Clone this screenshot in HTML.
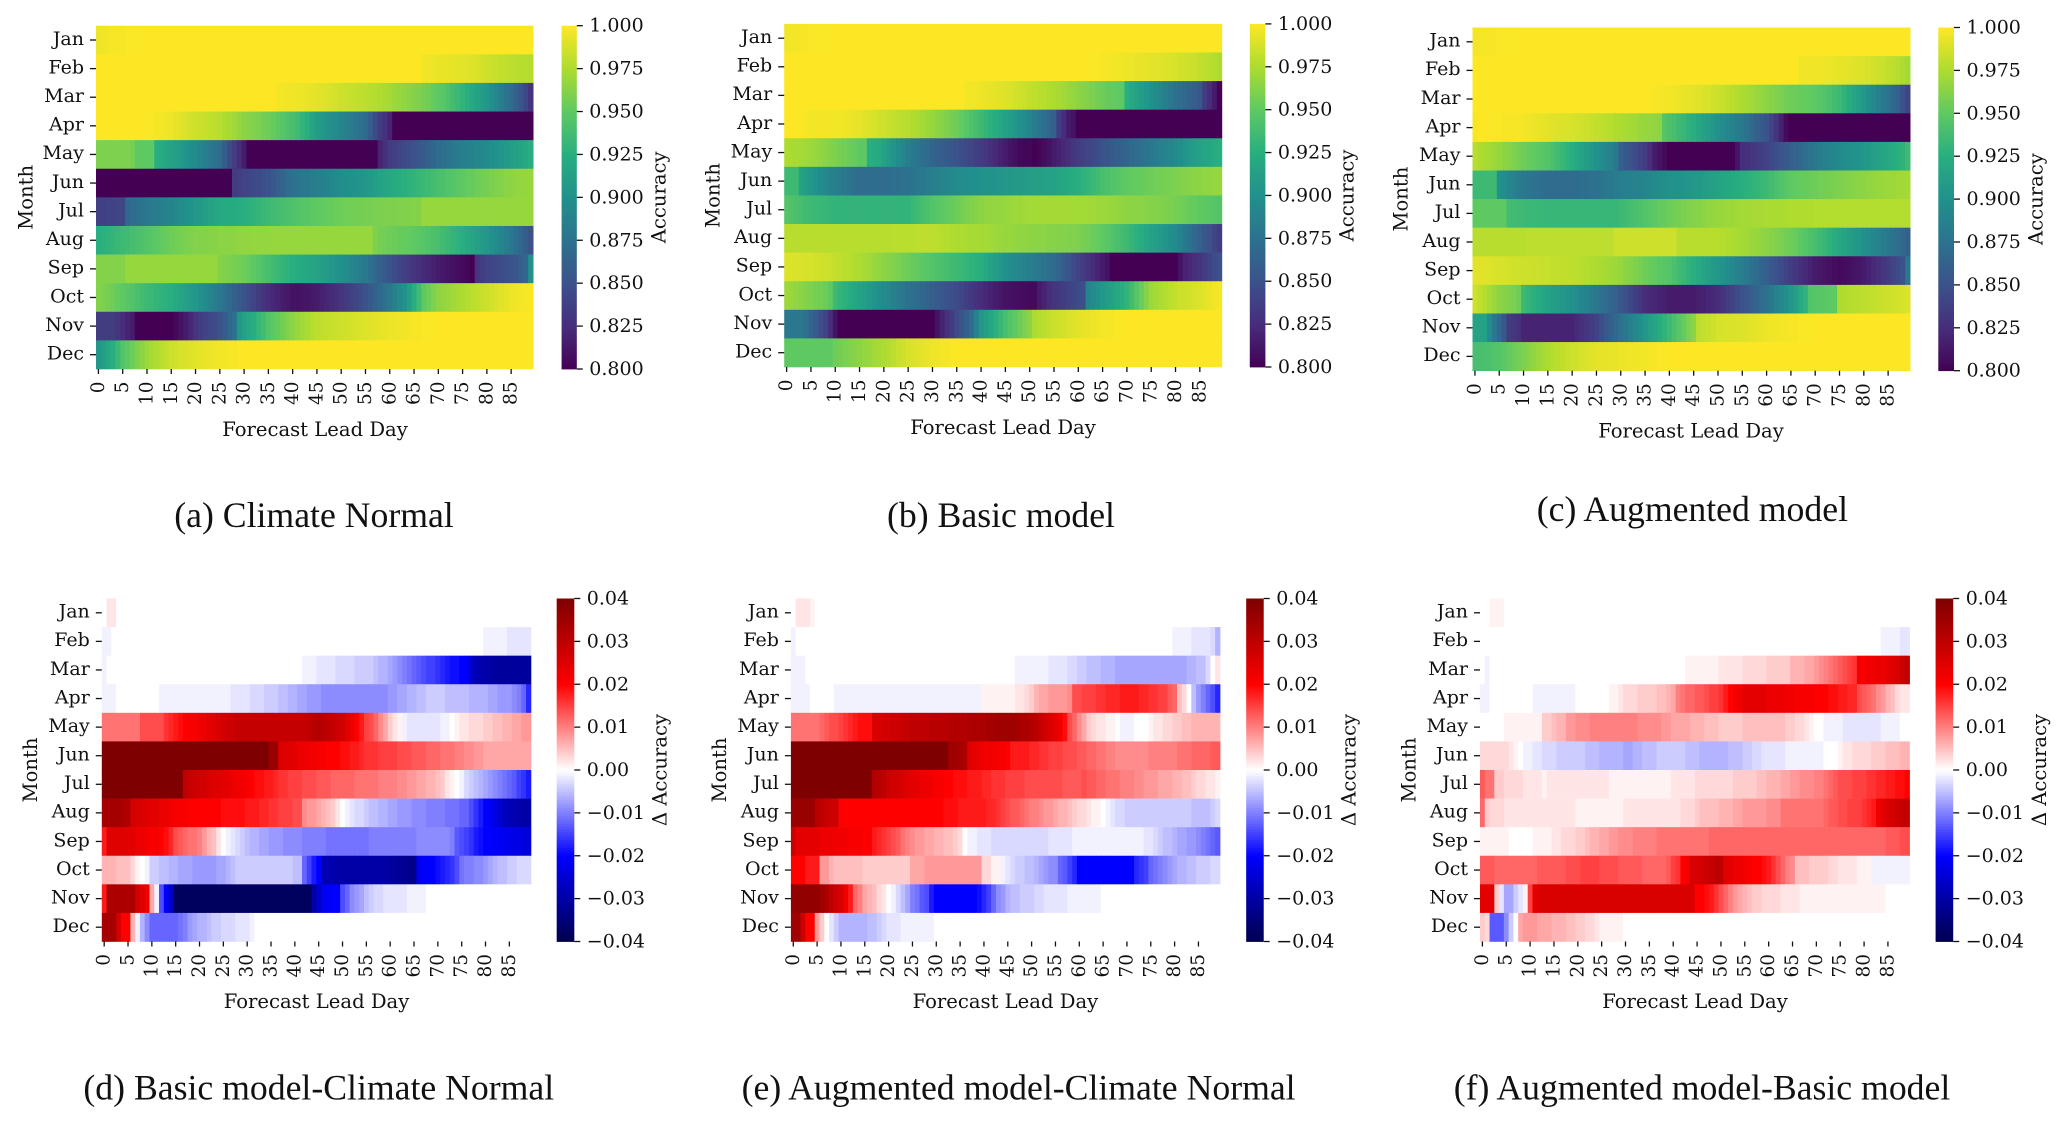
<!DOCTYPE html>
<html lang="en">
<head>
<meta charset="utf-8">
<title>Forecast accuracy heatmaps</title>
<style>
html,body{margin:0;padding:0;background:#fff;width:2067px;height:1125px;overflow:hidden}
svg{display:block}
.tick{font-family:"DejaVu Serif",serif;font-size:19px;fill:#111}
.xtick{font-family:"DejaVu Serif",serif;font-size:18.5px;fill:#111}
.axis{font-family:"DejaVu Serif",serif;font-size:19.6px;fill:#111}
.caption{font-family:"Liberation Serif",serif;font-size:35.7px;fill:#111}
</style>
</head>
<body>
<svg id="fig" xmlns="http://www.w3.org/2000/svg" width="2067" height="1125" viewBox="0 0 2067 1125"></svg>
<script>
const months = ["Jan","Feb","Mar","Apr","May","Jun","Jul","Aug","Sep","Oct","Nov","Dec"];
const leadDayTicks = [0,5,10,15,20,25,30,35,40,45,50,55,60,65,70,75,80,85];
const accuracyTicks = [0.8,0.825,0.85,0.875,0.9,0.925,0.95,0.975,1.0];
const accuracyTickLabels = ["0.800","0.825","0.850","0.875","0.900","0.925","0.950","0.975","1.000"];
const deltaTicks = [-0.04,-0.03,-0.02,-0.01,0,0.01,0.02,0.03,0.04];
const deltaTickLabels = ["\u22120.04","\u22120.03","\u22120.02","\u22120.01","0.00","0.01","0.02","0.03","0.04"];

/* accuracy x 1000, one row per month, one value per lead day (0-89) */
const climateNormal = [
[995,996,997,998,998,998,999,999,999,999, 1000,1000,1000,1000,1000,1000,1000,1000,1000,1000, 1000,1000,1000,1000,1000,1000,1000,1000,1000,1000, 1000,1000,1000,1000,1000,1000,1000,1000,1000,1000, 1000,1000,1000,1000,1000,1000,1000,1000,1000,1000, 1000,1000,1000,1000,1000,1000,1000,1000,1000,1000, 1000,1000,1000,1000,1000,1000,1000,1000,1000,1000, 1000,1000,1000,1000,1000,1000,1000,1000,1000,1000, 1000,1000,1000,1000,1000,1000,1000,1000,1000,1000],
[1000,1000,1000,1000,1000,1000,1000,1000,1000,1000, 1000,1000,1000,1000,1000,1000,1000,1000,1000,1000, 1000,1000,1000,1000,1000,1000,1000,1000,1000,1000, 1000,1000,1000,1000,1000,1000,1000,1000,1000,1000, 1000,1000,1000,1000,1000,1000,1000,1000,1000,1000, 1000,1000,1000,1000,1000,1000,1000,1000,1000,1000, 1000,1000,1000,1000,1000,1000,1000,996,996,995, 994,994,993,993,992,992,991,990,989,987, 985,984,983,982,981,980,979,978,978,977],
[1000,1000,1000,1000,1000,1000,1000,1000,1000,1000, 1000,1000,1000,1000,1000,1000,1000,1000,1000,1000, 1000,1000,1000,1000,1000,1000,1000,1000,1000,1000, 1000,1000,1000,1000,1000,1000,1000,997,997,996, 996,995,995,994,993,992,991,990,988,987, 985,984,983,982,981,980,978,977,976,974, 972,970,968,966,964,962,960,958,955,952, 950,947,943,938,934,930,925,920,915,910, 905,898,891,884,877,870,862,853,843,830],
[1000,1000,1000,1000,1000,1000,1000,1000,1000,1000, 999,999,998,997,996,995,993,991,989,987, 985,984,983,981,980,978,975,973,971,967, 965,963,961,959,957,955,952,949,946,943, 940,936,930,925,917,910,906,902,898,894, 890,886,882,878,874,870,858,845,836,828, 820,800,800,800,800,800,800,800,800,800, 800,800,800,800,800,800,800,800,800,800, 800,800,800,800,800,800,800,800,800,800],
[960,960,960,960,960,960,960,958,950,950, 950,950,925,922,918,915,911,907,903,899, 895,890,885,880,875,870,858,846,835,825, 815,800,800,800,800,800,800,800,800,800, 800,800,800,800,800,800,800,800,800,800, 800,800,800,800,800,800,800,800,820,828, 835,838,841,844,847,850,854,858,862,866, 870,873,876,879,882,885,887,889,891,893, 895,898,901,904,907,910,913,916,920,925],
[800,800,800,800,800,800,800,800,800,800, 800,800,800,800,800,800,800,800,800,800, 800,800,800,800,800,800,800,800,835,838, 840,842,844,846,848,850,855,860,865,870, 875,877,879,881,883,885,887,889,892,895, 897,899,900,902,903,905,908,911,914,917, 920,922,924,926,928,930,932,934,936,938, 940,942,944,946,948,950,952,953,955,956, 958,959,961,962,964,965,966,967,967,968],
[838,838,840,840,842,842,868,870,873,876, 880,882,884,886,888,890,893,896,899,902, 905,908,911,914,917,920,921,922,923,924, 925,927,929,931,933,935,937,938,940,941, 943,944,946,947,949,950,951,952,953,954, 955,956,956,957,957,958,958,959,959,960, 960,960,961,961,961,962,962,968,968,968, 968,968,968,968,968,968,968,968,968,968, 968,968,968,968,968,968,968,968,968,968],
[925,927,929,931,933,935,937,939,941,943, 945,947,949,951,953,955,956,958,959,960, 962,962,962,963,963,964,964,965,965,966, 966,966,967,967,967,967,968,968,968,968, 968,968,968,968,968,968,968,968,968,968, 968,968,968,968,968,968,968,960,958,956, 955,954,953,952,951,950,948,946,944,942, 940,937,934,931,928,925,921,917,913,909, 905,900,895,890,885,880,873,866,858,850],
[962,962,962,962,962,962,968,968,968,968, 968,968,968,968,968,968,968,968,968,968, 968,968,968,968,968,962,961,960,958,957, 955,952,949,946,943,940,937,934,931,928, 925,923,921,919,917,915,912,909,906,903, 900,896,892,888,884,880,874,868,862,856, 850,846,842,838,834,830,827,824,821,818, 815,813,811,809,807,805,803,800,830,835, 840,842,844,846,848,850,855,860,866,900],
[962,960,958,955,952,950,947,944,941,938, 935,933,931,929,927,925,921,917,913,909, 905,900,895,890,885,880,874,868,862,856, 850,845,840,835,830,825,822,819,816,813, 810,810,811,812,813,815,818,821,824,827, 830,834,838,842,846,850,856,862,868,874, 880,887,894,900,912,925,937,950,955,960, 965,967,969,971,973,975,977,979,981,983, 985,987,989,991,993,995,996,997,998,1000],
[835,835,835,835,830,825,820,815,800,800, 800,800,800,800,800,800,805,810,815,822, 830,835,840,843,846,850,858,866,875,905, 915,920,925,932,938,945,949,953,957,961, 965,968,971,974,977,980,981,982,983,984, 985,986,987,988,989,990,991,992,993,994, 995,995,996,996,997,998,998,999,999,999, 1000,1000,1000,1000,1000,1000,1000,1000,1000,1000, 1000,1000,1000,1000,1000,1000,1000,1000,1000,1000],
[905,912,918,925,935,945,950,955,960,965, 970,973,976,979,982,985,986,988,989,990, 992,993,994,995,996,997,997,998,998,999, 1000,1000,1000,1000,1000,1000,1000,1000,1000,1000, 1000,1000,1000,1000,1000,1000,1000,1000,1000,1000, 1000,1000,1000,1000,1000,1000,1000,1000,1000,1000, 1000,1000,1000,1000,1000,1000,1000,1000,1000,1000, 1000,1000,1000,1000,1000,1000,1000,1000,1000,1000, 1000,1000,1000,1000,1000,1000,1000,1000,1000,1000]
];
const basicModel = [
[996,997,997,998,998,999,999,999,999,999, 1000,1000,1000,1000,1000,1000,1000,1000,1000,1000, 1000,1000,1000,1000,1000,1000,1000,1000,1000,1000, 1000,1000,1000,1000,1000,1000,1000,1000,1000,1000, 1000,1000,1000,1000,1000,1000,1000,1000,1000,1000, 1000,1000,1000,1000,1000,1000,1000,1000,1000,1000, 1000,1000,1000,1000,1000,1000,1000,1000,1000,1000, 1000,1000,1000,1000,1000,1000,1000,1000,1000,1000, 1000,1000,1000,1000,1000,1000,1000,1000,1000,1000],
[1000,1000,1000,1000,1000,1000,1000,1000,1000,1000, 1000,1000,1000,1000,1000,1000,1000,1000,1000,1000, 1000,1000,1000,1000,1000,1000,1000,1000,1000,1000, 1000,1000,1000,1000,1000,1000,1000,1000,1000,1000, 1000,1000,1000,1000,1000,1000,1000,1000,1000,1000, 1000,1000,1000,1000,1000,1000,1000,1000,1000,1000, 1000,1000,999,999,999,998,998,997,997,996, 995,995,994,994,993,992,992,991,990,989, 988,987,986,985,984,982,981,979,977,975],
[1000,1000,1000,1000,1000,1000,1000,1000,1000,1000, 1000,1000,1000,1000,1000,1000,1000,1000,1000,1000, 1000,1000,1000,1000,1000,1000,1000,1000,1000,1000, 1000,1000,1000,1000,1000,1000,1000,997,997,996, 995,994,993,992,991,990,989,987,986,984, 982,981,979,978,976,975,973,971,969,967, 965,963,961,959,957,955,953,952,951,950, 925,920,915,910,905,900,895,890,885,880, 875,871,867,863,859,855,835,825,815,800],
[1000,1000,1000,1000,998,997,997,997,997,997, 997,997,996,995,994,993,991,990,988,986, 985,983,982,980,979,978,976,974,972,970, 968,965,963,960,958,955,951,947,943,939, 935,931,927,923,919,915,910,905,900,895, 890,884,878,872,866,860,835,825,815,810, 800,800,800,800,800,800,800,800,800,800, 800,800,800,800,800,800,800,800,800,800, 800,800,800,800,800,800,800,800,800,800],
[975,974,973,972,971,970,968,966,964,962, 960,958,956,954,952,950,950,925,923,921, 915,909,903,897,891,885,881,877,873,869, 865,862,859,856,853,850,847,844,841,838, 835,831,827,823,819,815,811,808,804,803, 803,800,803,806,810,815,819,823,827,831, 835,838,841,844,847,850,853,856,859,862, 865,868,871,874,877,880,883,886,889,892, 895,899,903,907,911,915,917,919,922,925],
[935,935,935,915,910,905,901,897,893,889, 885,882,879,876,873,870,870,870,870,870, 870,871,872,873,874,875,877,879,881,883, 885,887,889,891,893,895,896,897,898,899, 900,901,902,903,904,905,906,907,908,909, 910,911,912,913,914,915,917,919,921,923, 925,928,931,934,937,940,942,944,946,948, 950,951,952,953,954,955,956,957,958,959, 960,961,962,963,964,965,966,966,967,968],
[945,943,941,939,937,935,934,933,932,931, 930,930,930,930,930,930,930,930,930,930, 930,930,930,930,930,930,933,936,939,942, 945,947,949,951,953,955,957,959,961,963, 965,966,966,967,967,968,969,970,970,971, 972,972,972,972,972,972,972,972,972,972, 972,972,971,971,970,970,969,968,967,966, 965,965,964,964,963,962,962,961,960,959, 958,956,955,953,952,950,949,948,946,945],
[978,978,978,978,978,978,978,978,978,978, 978,978,978,978,978,978,978,978,978,978, 978,978,979,979,979,979,979,980,980,980, 980,979,978,977,976,975,975,974,973,973, 972,972,971,970,969,968,968,967,966,966, 965,965,964,964,963,963,962,962,961,961, 960,958,956,954,952,950,947,944,941,938, 935,931,927,923,919,915,911,907,903,899, 895,888,881,874,867,860,855,850,842,835],
[990,990,989,989,988,988,987,986,985,984, 982,981,979,978,976,975,973,971,969,967, 965,963,961,959,957,955,953,951,949,947, 945,943,941,939,937,935,933,931,929,927, 925,920,915,910,905,900,897,894,891,888, 885,882,879,876,873,870,864,858,852,846, 840,835,830,825,820,815,810,800,800,800, 800,800,800,800,800,800,800,800,800,800, 800,810,820,823,827,830,835,840,845,850],
[970,968,966,964,962,960,958,956,954,950, 935,931,927,923,919,915,911,907,903,899, 895,891,887,883,879,875,872,869,866,863, 860,857,854,851,848,845,841,837,833,829, 825,822,819,816,813,810,809,808,807,806, 805,805,815,820,825,830,833,836,839,842, 845,848,890,895,900,905,910,915,920,925, 930,938,946,954,962,970,972,975,977,980, 982,984,985,987,988,990,992,994,996,998],
[880,880,880,880,872,865,857,848,840,825, 810,800,800,800,800,800,800,800,800,800, 800,800,800,800,800,800,800,800,800,800, 800,810,820,828,836,845,853,861,870,888, 905,912,919,926,933,940,945,950,955,960, 965,975,977,979,982,985,986,987,989,990, 992,993,994,995,996,997,998,998,999,999, 1000,1000,1000,1000,1000,1000,1000,1000,1000,1000, 1000,1000,1000,1000,1000,1000,1000,1000,1000,1000],
[950,950,950,950,950,950,950,950,950,950, 955,957,959,961,963,965,967,969,971,973, 975,977,980,983,985,988,989,991,992,994, 995,996,997,998,999,1000,1000,1000,1000,1000, 1000,1000,1000,1000,1000,1000,1000,1000,1000,1000, 1000,1000,1000,1000,1000,1000,1000,1000,1000,1000, 1000,1000,1000,1000,1000,1000,1000,1000,1000,1000, 1000,1000,1000,1000,1000,1000,1000,1000,1000,1000, 1000,1000,1000,1000,1000,1000,1000,1000,1000,1000]
];
const augmentedModel = [
[997,997,998,998,998,999,999,999,999,999, 1000,1000,1000,1000,1000,1000,1000,1000,1000,1000, 1000,1000,1000,1000,1000,1000,1000,1000,1000,1000, 1000,1000,1000,1000,1000,1000,1000,1000,1000,1000, 1000,1000,1000,1000,1000,1000,1000,1000,1000,1000, 1000,1000,1000,1000,1000,1000,1000,1000,1000,1000, 1000,1000,1000,1000,1000,1000,1000,1000,1000,1000, 1000,1000,1000,1000,1000,1000,1000,1000,1000,1000, 1000,1000,1000,1000,1000,1000,1000,1000,1000,1000],
[1000,1000,1000,1000,1000,1000,1000,1000,1000,1000, 1000,1000,1000,1000,1000,1000,1000,1000,1000,1000, 1000,1000,1000,1000,1000,1000,1000,1000,1000,1000, 1000,1000,1000,1000,1000,1000,1000,1000,1000,1000, 1000,1000,1000,1000,1000,1000,1000,1000,1000,1000, 1000,1000,1000,1000,1000,1000,1000,1000,1000,1000, 1000,1000,1000,1000,1000,1000,1000,996,996,996, 996,996,995,995,994,993,993,992,991,990, 990,988,987,985,984,982,980,978,975,972],
[1000,1000,1000,1000,1000,1000,1000,1000,1000,1000, 1000,1000,1000,1000,1000,1000,1000,1000,1000,1000, 1000,1000,1000,1000,1000,1000,1000,1000,1000,1000, 1000,1000,1000,1000,1000,1000,1000,998,998,997, 997,996,995,994,993,992,991,989,988,986, 985,983,981,979,977,975,973,971,969,967, 965,963,961,959,957,955,954,953,952,951, 950,947,944,941,938,935,929,923,917,911, 905,899,893,887,881,875,868,861,850,840],
[998,1000,1000,999,999,999,998,998,998,998, 997,996,995,994,993,992,991,990,989,989, 988,987,986,985,983,982,981,979,978,976, 975,974,972,971,969,968,967,966,965,945, 942,939,935,932,928,925,920,915,910,905, 900,896,892,888,884,880,874,868,862,856, 850,840,830,818,805,800,800,800,800,800, 800,800,800,800,800,800,800,800,800,800, 800,800,800,800,800,800,800,800,800,800],
[978,976,974,972,970,968,965,963,960,958, 955,953,951,949,947,945,941,937,933,929, 925,920,915,910,905,900,896,892,888,880, 860,855,850,845,840,835,825,815,810,805, 800,800,800,800,800,800,800,800,800,800, 800,800,800,800,812,825,828,831,834,837, 840,844,848,852,856,860,864,868,872,876, 880,883,886,889,892,895,897,899,901,903, 905,908,911,914,917,920,923,926,929,935],
[935,935,935,935,935,900,896,892,888,884, 880,878,876,874,872,870,870,870,870,870, 870,871,872,873,874,875,877,879,881,883, 885,886,887,888,889,890,892,894,896,898, 900,901,902,903,904,905,907,909,911,913, 915,917,919,921,923,925,927,929,931,933, 935,938,941,944,947,950,951,952,953,954, 955,956,957,958,959,960,961,962,963,964, 965,966,967,968,969,970,970,971,971,972],
[950,950,950,950,950,950,950,938,937,936, 935,934,934,933,933,932,932,932,932,932, 932,932,932,932,932,932,932,932,932,932, 935,937,939,941,943,945,947,949,951,953, 955,956,958,959,961,962,963,964,966,967, 968,969,970,970,971,972,972,973,973,973, 974,974,974,974,975,976,976,976,976,976, 977,977,977,977,977,977,977,977,977,977, 977,977,977,977,977,977,977,977,977,977],
[978,978,978,978,978,978,978,978,978,978, 978,980,980,980,980,980,980,980,980,980, 980,980,980,980,980,980,980,980,980,985, 985,985,985,985,985,985,985,985,985,985, 985,985,978,978,978,978,978,978,978,978, 978,977,976,975,974,972,971,969,968,966, 965,963,961,959,957,955,952,949,946,943, 940,936,932,928,924,920,916,912,908,904, 900,896,892,888,884,880,876,872,868,860],
[992,991,991,990,989,988,988,987,986,986, 985,985,984,984,983,983,982,982,981,981, 980,979,978,977,976,975,974,972,971,970, 968,965,963,960,958,955,953,951,949,947, 945,941,937,933,929,925,921,917,913,909, 905,901,897,893,889,885,880,875,870,865, 860,855,850,845,840,835,831,827,823,819, 815,813,811,809,807,805,806,808,810,812, 815,819,823,827,831,835,840,845,850,880],
[985,981,977,973,969,965,963,961,959,955, 935,931,927,923,919,915,912,909,906,903, 900,896,892,888,884,880,875,870,865,860, 855,849,843,837,831,825,823,821,819,817, 815,815,815,815,815,815,817,819,821,823, 825,830,835,840,845,850,855,860,865,870, 875,881,887,893,899,905,913,921,929,945, 946,947,948,949,950,975,976,977,978,979, 980,981,982,983,984,985,986,987,988,990],
[915,915,915,897,880,868,855,835,832,828, 820,820,820,820,820,820,820,820,820,820, 820,824,828,832,836,840,847,854,861,868, 875,881,887,893,899,905,911,917,923,929, 935,941,947,953,959,965,980,982,983,985, 988,988,989,989,990,990,991,992,993,994, 995,996,996,997,997,998,998,999,999,999, 1000,1000,1000,1000,1000,1000,1000,1000,1000,1000, 1000,1000,1000,1000,1000,1000,1000,1000,1000,1000],
[940,940,941,942,944,945,948,951,954,957, 960,963,966,969,972,975,977,979,981,983, 985,986,988,989,991,992,993,993,994,994, 995,995,996,996,997,997,998,998,999,999, 1000,1000,1000,1000,1000,1000,1000,1000,1000,1000, 1000,1000,1000,1000,1000,1000,1000,1000,1000,1000, 1000,1000,1000,1000,1000,1000,1000,1000,1000,1000, 1000,1000,1000,1000,1000,1000,1000,1000,1000,1000, 1000,1000,1000,1000,1000,1000,1000,1000,1000,1000]
];

/* accuracy difference x 1000 */
const basicMinusClimate = [
[0,2,2,0,0,0,0,0,0,0, 0,0,0,0,0,0,0,0,0,0, 0,0,0,0,0,0,0,0,0,0, 0,0,0,0,0,0,0,0,0,0, 0,0,0,0,0,0,0,0,0,0, 0,0,0,0,0,0,0,0,0,0, 0,0,0,0,0,0,0,0,0,0, 0,0,0,0,0,0,0,0,0,0, 0,0,0,0,0,0,0,0,0,0],
[-1,-1,0,0,0,0,0,0,0,0, 0,0,0,0,0,0,0,0,0,0, 0,0,0,0,0,0,0,0,0,0, 0,0,0,0,0,0,0,0,0,0, 0,0,0,0,0,0,0,0,0,0, 0,0,0,0,0,0,0,0,0,0, 0,0,0,0,0,0,0,0,0,0, 0,0,0,0,0,0,0,0,0,0, -1,-1,-1,-1,-1,-2,-2,-2,-2,-2],
[-1,0,0,0,0,0,0,0,0,0, 0,0,0,0,0,0,0,0,0,0, 0,0,0,0,0,0,0,0,0,0, 0,0,0,0,0,0,0,0,0,0, 0,0,-1,-1,-1,-2,-2,-2,-2,-3, -3,-3,-3,-4,-4,-4,-4,-5,-6,-6, -7,-8,-9,-10,-11,-12,-13,-14,-15,-15, -16,-17,-18,-19,-19,-20,-20,-26,-28,-29, -30,-30,-31,-31,-31,-31,-31,-31,-31,-31],
[-1,-1,-1,0,0,0,0,0,0,0, 0,0,-1,-1,-1,-1,-1,-1,-1,-1, -1,-1,-1,-1,-1,-1,-1,-2,-2,-2, -2,-3,-3,-3,-4,-4,-4,-5,-5,-6, -6,-7,-7,-8,-8,-8,-9,-9,-9,-9, -9,-9,-9,-9,-9,-9,-9,-9,-9,-9, -8,-8,-7,-7,-6,-6,-5,-5,-4,-4, -4,-4,-5,-5,-5,-5,-5,-6,-6,-6, -6,-7,-7,-8,-8,-8,-9,-10,-12,-17],
[11,11,11,11,11,11,11,11,14,14, 14,14,14,16,17,18,19,20,21,21, 22,23,24,25,26,27,28,28,29,29, 29,29,29,29,29,29,29,29,29,29, 29,29,29,30,31,32,31,30,29,28, 27,25,23,20,18,15,14,12,9,7, 4,2,1,-1,-2,-2,-2,-2,-2,-2, -2,-1,-1,0,1,2,2,3,3,3, 4,4,5,5,6,6,7,7,8,8],
[40,40,40,40,40,40,40,40,40,40, 40,40,40,40,40,40,40,40,40,40, 40,40,40,40,40,40,40,40,40,40, 40,40,40,40,40,36,36,26,25,25, 24,23,23,22,22,21,21,20,20,20, 19,19,18,18,17,16,16,16,15,15, 15,15,14,14,14,13,13,13,12,12, 12,11,11,11,10,10,9,9,8,8, 7,7,7,7,7,7,7,7,7,7],
[40,40,40,40,40,40,40,40,40,40, 40,40,40,40,40,40,40,30,29,28, 27,27,26,25,25,24,24,23,22,22, 21,20,19,19,18,18,17,16,16,15, 15,15,14,14,14,13,13,13,12,12, 12,12,12,11,11,11,11,11,10,10, 10,10,9,9,8,8,7,7,6,6, 5,4,2,1,0,-1,-3,-4,-5,-6, -7,-8,-9,-10,-11,-12,-13,-15,-16,-18],
[34,34,34,34,33,32,27,26,26,25, 24,24,23,23,22,21,21,21,20,20, 20,20,20,20,20,19,19,19,19,19, 18,18,18,17,17,16,16,15,15,15, 14,14,9,8,8,7,6,5,4,2, 0,-1,-2,-3,-3,-4,-5,-5,-6,-6, -7,-7,-8,-8,-8,-9,-9,-9,-10,-10, -10,-10,-11,-11,-11,-12,-12,-14,-16,-18, -20,-21,-23,-25,-27,-28,-29,-29,-30,-30],
[18,25,25,25,25,24,24,23,23,22, 21,21,20,19,17,14,13,12,11,11, 10,8,6,5,2,0,-1,-2,-3,-4, -5,-6,-6,-7,-7,-8,-8,-8,-9,-9, -9,-9,-10,-10,-10,-10,-10,-11,-11,-11, -11,-11,-11,-11,-11,-11,-10,-10,-10,-10, -10,-10,-10,-10,-10,-10,-9,-9,-9,-9, -9,-9,-9,-10,-13,-14,-15,-16,-18,-19, -20,-20,-21,-21,-22,-22,-23,-23,-24,-24],
[6,6,6,5,5,5,3,1,0,-1, -4,-4,-5,-5,-6,-6,-7,-7,-7,-8, -8,-8,-8,-8,-7,-7,-6,-5,-4,-4, -4,-4,-4,-4,-4,-4,-4,-4,-4,-4, -5,-5,-12,-15,-18,-20,-28,-29,-29,-30, -30,-30,-30,-30,-30,-30,-30,-30,-30,-30, -31,-31,-32,-32,-33,-33,-22,-21,-20,-20, -19,-18,-17,-16,-14,-11,-10,-10,-9,-9, -8,-7,-6,-5,-5,-4,-4,-3,-3,-3],
[18,33,33,33,33,33,33,27,25,22, 7,-1,-14,-20,-26,-38,-38,-38,-38,-38, -38,-38,-38,-38,-38,-38,-38,-38,-38,-38, -38,-38,-38,-38,-38,-38,-38,-38,-38,-38, -38,-38,-38,-38,-30,-26,-22,-21,-20,-20, -14,-12,-9,-8,-7,-5,-4,-3,-3,-2, -2,-2,-2,-2,-1,-1,-1,-1,0,0, 0,0,0,0,0,0,0,0,0,0, 0,0,0,0,0,0,0,0,0,0],
[34,34,34,27,20,20,6,-1,-6,-9, -12,-12,-12,-12,-12,-12,-11,-10,-8,-7, -6,-6,-5,-4,-4,-3,-3,-3,-2,-2, -2,-1,0,0,0,0,0,0,0,0, 0,0,0,0,0,0,0,0,0,0, 0,0,0,0,0,0,0,0,0,0, 0,0,0,0,0,0,0,0,0,0, 0,0,0,0,0,0,0,0,0,0, 0,0,0,0,0,0,0,0,0,0]
];
const augmentedMinusClimate = [
[0,2,2,2,1,0,0,0,0,0, 0,0,0,0,0,0,0,0,0,0, 0,0,0,0,0,0,0,0,0,0, 0,0,0,0,0,0,0,0,0,0, 0,0,0,0,0,0,0,0,0,0, 0,0,0,0,0,0,0,0,0,0, 0,0,0,0,0,0,0,0,0,0, 0,0,0,0,0,0,0,0,0,0, 0,0,0,0,0,0,0,0,0,0],
[-1,0,0,0,0,0,0,0,0,0, 0,0,0,0,0,0,0,0,0,0, 0,0,0,0,0,0,0,0,0,0, 0,0,0,0,0,0,0,0,0,0, 0,0,0,0,0,0,0,0,0,0, 0,0,0,0,0,0,0,0,0,0, 0,0,0,0,0,0,0,0,0,0, 0,0,0,0,0,0,0,0,0,0, -1,-1,-1,-1,-2,-2,-2,-2,-3,-6],
[-1,-1,-1,0,0,0,0,0,0,0, 0,0,0,0,0,0,0,0,0,0, 0,0,0,0,0,0,0,0,0,0, 0,0,0,0,0,0,0,0,0,0, 0,0,0,0,0,0,0,-1,-1,-1, -1,-1,-1,-1,-2,-2,-2,-2,-3,-3, -4,-4,-5,-5,-5,-6,-6,-6,-7,-7, -7,-7,-7,-7,-7,-7,-7,-7,-7,-7, -7,-7,-7,-6,-6,-5,-5,-3,0,2],
[-1,-1,-1,-1,0,0,0,0,0,-1, -1,-1,-1,-1,-1,-1,-1,-1,-1,-1, -1,-1,-1,-1,-1,-1,-1,-1,-1,-1, -1,-1,-1,-1,-1,-1,-1,-1,-1,-1, 1,1,1,1,1,1,1,2,2,3, 4,6,7,7,8,8,8,8,9,14, 14,15,15,15,16,16,17,17,17,18, 18,18,18,17,17,16,16,15,15,13, 12,5,3,0,-5,-8,-10,-12,-14,-17],
[11,11,11,11,11,11,12,13,14,14, 15,16,17,18,19,19,19,26,26,27, 27,28,28,29,29,30,30,30,30,31, 31,31,31,32,32,32,32,33,33,33, 33,34,34,35,35,35,35,34,33,33, 32,31,29,27,26,24,22,19,14,12, 9,7,4,3,2,2,1,1,0,-1, -1,-1,0,0,0,1,2,2,3,3, 4,4,5,5,6,6,6,6,6,6],
[40,40,40,40,40,40,40,40,40,40, 40,40,40,40,40,40,40,40,40,40, 40,40,40,40,40,40,40,40,40,40, 40,40,40,35,35,34,33,25,24,23, 22,22,22,21,21,20,18,18,18,18, 17,17,16,16,15,15,15,14,14,14, 13,13,12,12,11,11,10,10,9,9, 9,9,9,9,9,10,10,10,10,10, 10,11,11,11,12,12,12,12,13,13],
[40,40,40,40,40,40,40,40,40,40, 40,40,40,40,40,40,40,32,31,30, 28,27,27,26,25,24,24,23,23,22, 21,21,20,20,19,19,19,18,18,18, 17,17,16,16,16,15,15,15,15,14, 14,14,14,14,14,14,14,13,13,13, 13,14,13,13,12,12,11,11,11,10, 10,10,9,9,8,8,8,7,7,7, 6,6,5,5,4,3,3,2,2,1],
[36,36,36,36,36,31,30,29,28,28, 20,20,20,20,20,20,20,20,20,20, 20,20,20,20,20,20,20,20,20,20, 20,20,19,19,19,18,18,18,18,18, 18,17,17,16,15,14,13,13,12,11, 10,10,9,8,8,7,6,6,5,4, 3,3,2,1,1,0,-1,-2,-3,-3, -4,-4,-4,-4,-4,-4,-4,-4,-4,-4, -4,-4,-4,-4,-5,-5,-5,-5,-4,-3],
[28,24,24,24,24,24,23,23,23,22, 22,22,21,21,21,20,20,18,17,16, 15,14,13,11,10,9,8,8,7,7, 6,6,5,5,4,3,0,-1,-1,-2, -2,-2,-3,-3,-3,-3,-3,-3,-3,-3, -3,-3,-3,-3,-2,-2,-2,-2,-2,-1, -1,-1,-1,-1,-1,-1,-1,-1,-1,-1, -1,-1,-1,-1,-2,-2,-3,-4,-5,-5, -6,-7,-7,-8,-8,-9,-10,-11,-12,-13],
[20,20,20,18,18,18,8,8,6,5, 5,5,5,5,5,4,4,4,4,4, 4,4,4,4,4,7,7,7,8,8, 8,8,8,8,8,8,8,8,8,8, 3,3,1,1,-1,-2,-3,-4,-4,-5, -5,-6,-7,-8,-9,-9,-12,-13,-15,-17, -20,-20,-20,-20,-20,-20,-20,-20,-20,-20, -20,-20,-17,-16,-15,-12,-11,-10,-9,-8, -7,-6,-6,-5,-5,-4,-4,-4,-3,-3],
[37,37,37,37,37,37,35,33,30,28, 26,22,18,12,10,7,6,5,3,2, 0,-1,-3,-5,-7,-10,-11,-13,-14,-18, -20,-20,-20,-20,-20,-20,-20,-20,-20,-19, -17,-15,-12,-9,-8,-6,-5,-5,-4,-4, -4,-3,-3,-2,-2,-2,-2,-2,-1,-1, -1,-1,-1,-1,-1,0,0,0,0,0, 0,0,0,0,0,0,0,0,0,0, 0,0,0,0,0,0,0,0,0,0],
[35,35,28,20,20,8,4,0,-2,-4, -6,-6,-6,-6,-6,-6,-5,-5,-4,-3, -2,-2,-2,-1,-1,-1,-1,-1,-1,-1, 0,0,0,0,0,0,0,0,0,0, 0,0,0,0,0,0,0,0,0,0, 0,0,0,0,0,0,0,0,0,0, 0,0,0,0,0,0,0,0,0,0, 0,0,0,0,0,0,0,0,0,0, 0,0,0,0,0,0,0,0,0,0]
];
const augmentedMinusBasic = [
[0,0,1,1,1,0,0,0,0,0, 0,0,0,0,0,0,0,0,0,0, 0,0,0,0,0,0,0,0,0,0, 0,0,0,0,0,0,0,0,0,0, 0,0,0,0,0,0,0,0,0,0, 0,0,0,0,0,0,0,0,0,0, 0,0,0,0,0,0,0,0,0,0, 0,0,0,0,0,0,0,0,0,0, 0,0,0,0,0,0,0,0,0,0],
[0,0,0,0,0,0,0,0,0,0, 0,0,0,0,0,0,0,0,0,0, 0,0,0,0,0,0,0,0,0,0, 0,0,0,0,0,0,0,0,0,0, 0,0,0,0,0,0,0,0,0,0, 0,0,0,0,0,0,0,0,0,0, 0,0,0,0,0,0,0,0,0,0, 0,0,0,0,0,0,0,0,0,0, 0,0,0,0,-1,-1,-1,-1,-2,-2],
[0,-1,0,0,0,0,0,0,0,0, 0,0,0,0,0,0,0,0,0,0, 0,0,0,0,0,0,0,0,0,0, 0,0,0,0,0,0,0,0,0,0, 0,0,0,1,1,1,1,1,1,1, 2,2,2,2,2,3,3,3,3,3, 4,4,4,4,4,6,6,6,7,7, 8,9,10,11,12,13,14,15,16,21, 21,22,22,23,23,24,25,26,28,30],
[-1,-1,0,0,0,0,0,0,0,0, 0,-1,-1,-1,-1,-1,-1,-1,-1,-1, 0,0,0,0,0,0,0,1,1,2, 3,3,3,4,4,4,4,5,5,6, 7,10,11,12,12,13,13,14,15,15, 16,18,20,22,22,24,24,24,24,24, 23,23,23,23,22,22,21,21,21,21, 20,20,20,19,19,18,18,17,17,14, 13,12,11,9,8,6,5,3,2,2],
[0,0,0,0,0,1,1,1,1,1, 1,1,1,4,4,5,6,6,8,8, 9,9,9,10,10,10,10,10,10,10, 10,10,10,9,9,9,9,9,8,8, 7,7,7,7,6,6,6,5,5,5, 4,4,4,4,4,5,5,5,5,5, 5,5,5,5,4,4,3,3,2,1, 0,0,-1,-1,-1,-1,-2,-2,-2,-2, -2,-2,-2,-2,-1,-1,-1,-1,0,0],
[3,3,3,3,3,3,2,1,0,-1, -1,-2,-2,-3,-3,-3,-4,-4,-4,-4, -4,-4,-5,-5,-5,-6,-6,-6,-6,-6, -7,-7,-6,-6,-5,-5,-5,-4,-4,-4, -4,-4,-4,-5,-5,-5,-6,-6,-6,-6, -6,-6,-5,-5,-5,-4,-4,-3,-3,-2, -2,-2,-2,-2,-1,-1,-1,-1,-1,-1, -1,-1,0,0,0,1,2,2,3,3, 3,3,4,4,4,5,5,5,6,6],
[13,11,11,4,4,3,3,3,3,2, 2,2,2,1,2,2,2,2,2,2, 2,2,2,2,2,2,2,1,1,1, 1,1,1,1,1,1,1,1,1,1, 2,2,2,2,2,3,3,3,3,3, 3,3,3,4,4,4,4,4,5,5, 6,6,6,7,7,8,8,9,9,9, 10,10,11,12,13,14,14,14,15,15, 15,16,16,17,17,18,18,19,19,20],
[12,4,3,3,3,2,2,2,2,2, 2,2,2,2,2,2,2,2,2,2, 1,1,1,1,1,1,1,1,1,1, 2,2,2,2,2,2,2,2,2,2, 2,2,3,3,3,4,5,5,5,5, 6,6,6,7,7,8,8,8,8,8, 9,9,9,11,11,11,11,11,11,11, 11,11,12,13,13,14,14,15,15,15, 16,17,18,22,24,26,27,28,29,30],
[1,1,1,1,1,1,0,0,0,0, 0,1,1,1,1,2,2,3,3,3, 4,4,5,6,6,7,7,8,8,9, 9,9,10,10,10,10,10,11,11,11, 11,11,11,11,11,11,11,11,12,12, 12,12,12,12,12,12,12,12,12,12, 12,12,12,12,12,12,12,12,12,12, 12,12,12,12,12,12,12,12,12,12, 12,12,12,12,12,13,13,13,14,14],
[13,13,13,12,12,12,12,12,12,12, 12,12,13,13,13,13,13,13,14,14, 14,15,15,15,15,14,14,14,14,13, 13,13,13,13,12,12,12,12,12,13, 15,16,20,22,26,26,27,28,29,30, 30,25,24,23,23,22,21,20,20,19, 18,16,14,12,10,9,5,5,5,4, 4,4,4,3,3,2,2,2,2,1, 1,1,-1,-1,-1,-1,-1,-1,-1,-1],
[24,24,24,4,-2,-7,-7,-4,-2,1, 15,24,26,26,26,26,26,26,26,26, 26,26,26,26,26,26,26,26,26,26, 26,26,26,26,26,26,26,26,26,26, 26,26,26,26,26,20,20,19,18,16, 14,12,10,8,7,6,5,4,4,3, 3,3,3,2,2,2,2,1,1,1, 1,1,1,1,1,1,1,1,1,1, 1,1,1,1,1,0,0,0,0,0],
[4,3,-13,-13,-13,-9,-4,0,7,8, 8,8,7,7,7,6,6,6,5,5, 4,4,3,3,2,1,1,1,1,1, 0,0,0,0,0,0,0,0,0,0, 0,0,0,0,0,0,0,0,0,0, 0,0,0,0,0,0,0,0,0,0, 0,0,0,0,0,0,0,0,0,0, 0,0,0,0,0,0,0,0,0,0, 0,0,0,0,0,0,0,0,0,0]
];

const viridisStops = ["#440154","#472d7b","#3b528b","#2c728e","#21918c","#28ae80","#5ec962","#addc30","#fde725"];
const seismicStops = ["#00004c","#0000ff","#ffffff","#ff0000","#7f0000"];
const DAYS = 90;

function hexRgb(h){ return [parseInt(h.slice(1,3),16),parseInt(h.slice(3,5),16),parseInt(h.slice(5,7),16)]; }
function mapColor(stops,t){
  t=Math.max(0,Math.min(1,t));
  const p=t*(stops.length-1), i=Math.min(stops.length-2,Math.floor(p)), f=p-i;
  const a=hexRgb(stops[i]), b=hexRgb(stops[i+1]);
  return "rgb("+[0,1,2].map(k=>Math.round(a[k]+(b[k]-a[k])*f)).join(",")+")";
}
function accuracyColor(v){ return mapColor(viridisStops,(v-0.8)/0.2); }
function deltaColor(v){ return mapColor(seismicStops,(v+0.04)/0.08); }

const NS="http://www.w3.org/2000/svg";
const fig=document.getElementById("fig");
function mk(parent,tag,attrs,txt){
  const el=document.createElementNS(NS,tag);
  for(const k in attrs) el.setAttribute(k,attrs[k]);
  if(txt!==undefined) el.textContent=txt;
  parent.appendChild(el);
  return el;
}

const layouts=[
 {id:"a",left:96,right:533,top:25.7,bottom:369,cbL:561.6,cbR:576.8,monthX:26,cbTitleX:659,xlabX:315,xlabY:436,capX:314,capY:527},
 {id:"b",left:784.2,right:1221.7,top:23.9,bottom:367,cbL:1249.8,cbR:1265.4,monthX:713,cbTitleX:1347,xlabX:1003,xlabY:434,capX:1001,capY:527},
 {id:"c",left:1472.5,right:1910,top:27.5,bottom:370.7,cbL:1938.3,cbR:1954,monthX:1401,cbTitleX:2036,xlabX:1691,xlabY:437.5,capX:1692.4,capY:521},
 {id:"d",left:101.8,right:530.8,top:598.5,bottom:941.5,cbL:556.7,cbR:574.3,monthX:30.4,cbTitleX:660,xlabX:316.5,xlabY:1008,capX:318.8,capY:1099.4},
 {id:"e",left:790.9,right:1219.9,top:598.5,bottom:941.5,cbL:1246.2,cbR:1263.7,monthX:719.5,cbTitleX:1349,xlabX:1005.4,xlabY:1008,capX:1018.6,capY:1099.4},
 {id:"f",left:1480,right:1909.4,top:598.5,bottom:941.5,cbL:1935.6,cbR:1953.2,monthX:1409,cbTitleX:2039.5,xlabX:1695,xlabY:1008,capX:1702,capY:1099.4}
];
const panelDefs=[
 {values:climateNormal,kind:"accuracy",caption:"(a) Climate Normal"},
 {values:basicModel,kind:"accuracy",caption:"(b) Basic model"},
 {values:augmentedModel,kind:"accuracy",caption:"(c) Augmented model"},
 {values:basicMinusClimate,kind:"delta",caption:"(d) Basic model-Climate Normal"},
 {values:augmentedMinusClimate,kind:"delta",caption:"(e) Augmented model-Climate Normal"},
 {values:augmentedMinusBasic,kind:"delta",caption:"(f) Augmented model-Basic model"}
];

panelDefs.forEach((def,pi)=>{
  const L=layouts[pi];
  const isAcc=def.kind==="accuracy";
  const colorOf=isAcc?accuracyColor:deltaColor;
  const dmin=isAcc?0.8:-0.04, dmax=isAcc?1.0:0.04;
  const cellW=(L.right-L.left)/DAYS, cellH=(L.bottom-L.top)/months.length;
  const xScale=d=>L.left+d*cellW;
  const yScale=m=>L.top+m*cellH;
  const cbScale=v=>L.bottom-(v-dmin)/(dmax-dmin)*(L.bottom-L.top);

  const g=mk(fig,"g",{});
  
  

  const cells=mk(g,"g",{});
  
  
  def.values.forEach((row,m)=>{
    row.forEach((raw,d)=>{
      const cell=mk(cells,"rect",{x:xScale(d).toFixed(2),y:yScale(m).toFixed(2),width:(cellW+0.5).toFixed(2),height:(cellH+0.3).toFixed(2),fill:colorOf(raw/1000)});
      
      
    });
  });

  months.forEach((name,m)=>{
    const yc=yScale(m+0.5);
    const t=mk(g,"line",{x1:L.left-6,x2:L.left,y1:yc,y2:yc,stroke:"#111","stroke-width":1.3});
    
    
    const lab=mk(g,"text",{class:"tick",x:L.left-12,y:yc-1.2,"text-anchor":"end","dominant-baseline":"central"},name);
    
    
  });

  leadDayTicks.forEach(day=>{
    const xc=xScale(day+0.5);
    const t=mk(g,"line",{x1:xc,x2:xc,y1:L.bottom,y2:L.bottom+5,stroke:"#111","stroke-width":1.3});
    
    
    const yy=L.bottom+12.5;
    const lab=mk(g,"text",{class:"xtick",x:xc,y:yy,"text-anchor":"end","dominant-baseline":"central",transform:"rotate(-90 "+xc+" "+yy+")"},String(day));
    
    
  });

  const xt=mk(g,"text",{class:"axis",x:L.xlabX,y:L.xlabY,"text-anchor":"middle"},"Forecast Lead Day");
  
  
  const midY=(L.top+L.bottom)/2;
  const yt=mk(g,"text",{class:"axis",x:L.monthX,y:midY,"text-anchor":"middle","dominant-baseline":"central",transform:"rotate(-90 "+L.monthX+" "+midY+")"},"Month");
  
  

  const bar=mk(g,"g",{});
  
  
  const steps=128;
  for(let s=0;s<steps;s++){
    const v=dmin+(s+0.5)/steps*(dmax-dmin);
    const hi=dmin+(s+1)/steps*(dmax-dmin);
    const seg=mk(bar,"rect",{x:L.cbL,y:cbScale(hi).toFixed(2),width:L.cbR-L.cbL,height:((L.bottom-L.top)/steps+0.4).toFixed(2),fill:colorOf(v)});
    
    
  }
  const ticks=isAcc?accuracyTicks:deltaTicks;
  const labels=isAcc?accuracyTickLabels:deltaTickLabels;
  ticks.forEach((v,i)=>{
    const yc=cbScale(v);
    const t=mk(g,"line",{x1:L.cbR,x2:L.cbR+6,y1:yc,y2:yc,stroke:"#111","stroke-width":1.3});
    
    
    const lab=mk(g,"text",{class:"tick",x:L.cbR+12.5,y:yc,"dominant-baseline":"central"},labels[i]);
    
    
  });
  const ct=mk(g,"text",{class:"axis",x:L.cbTitleX,y:midY,"text-anchor":"middle","dominant-baseline":"central",transform:"rotate(-90 "+L.cbTitleX+" "+midY+")"},isAcc?"Accuracy":"\u0394 Accuracy");
  
  

  const cap=mk(g,"text",{class:"caption",x:L.capX,y:L.capY,"text-anchor":"middle"},def.caption);
  
  
});
</script>
</body>
</html>
